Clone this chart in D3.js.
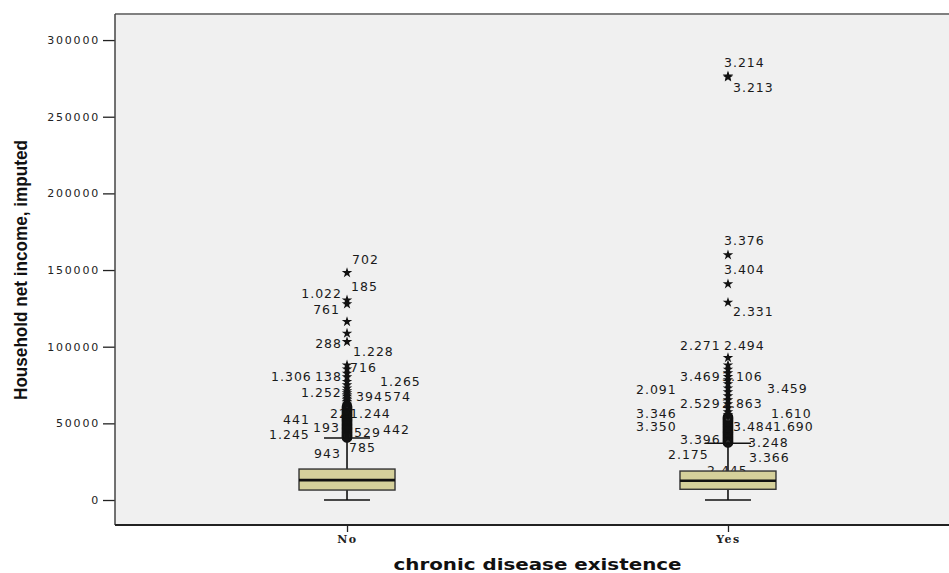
<!DOCTYPE html>
<html>
<head>
<meta charset="utf-8">
<script src="https://cdn.jsdelivr.net/npm/d3@7"></script>
<style>
  body { margin: 0; background: #fff; }
  svg { display: block; }
</style>
</head>
<body>
<div id="chart"></div>
<script>
'use strict'

// categories and tick values
let groups = ['No', 'Yes'];
let yTicks = [0, 50000, 100000, 150000, 200000, 250000, 300000];

// box statistics
let boxLow    = [0, 0];
let boxQ1     = [6500, 7000];
let boxMedian = [13000, 12600];
let boxQ3     = [20200, 18900];
let boxHigh   = [40400, 37000];

// outliers (circles) and extremes (stars)
let noCircles = [61000, 60200, 59400, 58600, 57800, 57000, 56300, 55600, 54900, 54100, 53400, 52700,
                 52000, 51300, 50500, 49800, 49100, 48400, 47700, 47000, 46300, 45600, 44900, 44200,
                 43500, 42800, 42100, 41400, 40800];
let noStars = [148200, 130400, 127800, 116300, 108700, 103200, 88000, 85400, 82600, 80200, 77200,
               75000, 73000, 71200, 69800, 68600, 67500, 66300, 65200, 64100, 63000, 62000];
let yesCircles = [54200, 53400, 52600, 51800, 51000, 50200, 49400, 48600, 47800, 47000, 46200, 45400,
                  44600, 43800, 43000, 42200, 41400, 40600, 39800, 39000, 38200, 37500];
let yesStars = [276500, 275800, 159800, 140900, 128900, 92800, 88000, 85200, 82800, 80400, 78300,
                75700, 73000, 70400, 67800, 65200, 62600, 60000, 57400, 55400];

// case labels: [text, value, horizontal offset from group centre, anchor]
let noLabels = [
  ['702', 156500, 5, 'start'], ['185', 139100, 4, 'start'], ['1.022', 134800, -5, 'end'],
  ['761', 123900, -7, 'end'], ['288', 101700, -5, 'end'], ['1.228', 96700, 6, 'start'],
  ['716', 86100, 3, 'start'], ['1.306', 80400, -76, 'start'], ['138', 80400, -32, 'start'],
  ['1.265', 77200, 33, 'start'], ['1.252', 70000, -46, 'start'], ['394', 67400, 9, 'start'],
  ['574', 67400, 37, 'start'], ['441', 52200, -64, 'start'], ['22', 56400, -17, 'start'],
  ['1.244', 56400, 3, 'start'], ['193', 47000, -34, 'start'], ['1.245', 42400, -78, 'start'],
  ['529', 43700, 7, 'start'], ['442', 46100, 36, 'start'], ['943', 30500, -33, 'start'],
  ['785', 34100, 2, 'start']
];
let yesLabels = [
  ['3.214', 285200, -4, 'start'], ['3.213', 268900, 5, 'start'], ['3.376', 169100, -4, 'start'],
  ['3.404', 150000, -4, 'start'], ['2.331', 122800, 5, 'start'], ['2.271', 100400, -48, 'start'],
  ['2.494', 100400, -4, 'start'], ['3.469', 80400, -48, 'start'], ['3.106', 80400, -6, 'start'],
  ['3.459', 72800, 39, 'start'], ['2.091', 71700, -92, 'start'], ['2.529', 62600, -48, 'start'],
  ['2.863', 62600, -6, 'start'], ['3.346', 56500, -92, 'start'], ['1.610', 56500, 43, 'start'],
  ['3.350', 47800, -92, 'start'], ['3.484', 47800, 5, 'start'], ['1.690', 47800, 45, 'start'],
  ['3.396', 39100, -48, 'start'], ['3.248', 37400, 20, 'start'], ['2.175', 29800, -60, 'start'],
  ['3.366', 27800, 21, 'start'], ['2.445', 18900, -21, 'start']
];

let circlesByGroup = [noCircles, yesCircles];
let starsByGroup = [noStars, yesStars];
let labelsByGroup = [noLabels, yesLabels];

var width = 949, height = 573;
var margin = {top: 14, left: 115, bottom: 48};
var plotRight = 960;
var boxWidth = 96, capWidth = 46;

var svg = d3.select('#chart').append('svg')
  .attr('width', width)
  .attr('height', height);

var y = d3.scaleLinear()
  .domain([-16300, 317000])
  .range([height - margin.bottom, margin.top]);

var x = d3.scalePoint()
  .domain(groups)
  .range([margin.left, plotRight])
  .padding(0.609);

// plot background and frame
svg.append('rect')
  .attr('x', margin.left).attr('y', margin.top)
  .attr('width', plotRight - margin.left)
  .attr('height', (height - margin.bottom) - margin.top)
  .attr('fill', '#f0f0f0');

// y axis
var yAxis = svg.append('g')
  .attr('transform', 'translate(' + margin.left + ',0)')
  .call(d3.axisLeft(y).tickValues(yTicks).tickSize(12).tickPadding(3).tickFormat(d3.format('d')));
yAxis.select('.domain').remove();
yAxis.selectAll('line').attr('stroke', '#222').attr('stroke-width', 1.3);
yAxis.selectAll('text')
  .attr('fill', '#222')
  .style('font-family', '"DejaVu Sans", sans-serif')
  .style('font-size', '11px')
  .style('letter-spacing', '1.8px');

// x axis
var xAxis = svg.append('g')
  .attr('transform', 'translate(0,' + (height - margin.bottom) + ')')
  .call(d3.axisBottom(x).tickSize(7).tickPadding(3));
xAxis.select('.domain').remove();
xAxis.selectAll('line').attr('stroke', '#222').attr('stroke-width', 1.3);
xAxis.selectAll('text')
  .attr('fill', '#222')
  .style('font-family', '"DejaVu Serif", serif')
  .style('font-weight', 'bold')
  .style('font-size', '11px')
  .style('letter-spacing', '1.5px');

// frame lines
svg.append('line')
  .attr('x1', margin.left).attr('x2', plotRight)
  .attr('y1', margin.top).attr('y2', margin.top)
  .attr('stroke', '#808080').attr('stroke-width', 2);
svg.append('line')
  .attr('x1', margin.left).attr('x2', margin.left)
  .attr('y1', margin.top).attr('y2', height - margin.bottom)
  .attr('stroke', '#444').attr('stroke-width', 1.5);
svg.append('line')
  .attr('x1', margin.left).attr('x2', plotRight)
  .attr('y1', height - margin.bottom).attr('y2', height - margin.bottom)
  .attr('stroke', '#222').attr('stroke-width', 2);

// case labels go underneath the markers
groups.forEach(function(g, i) {
  svg.append('g').selectAll('text')
    .data(labelsByGroup[i])
    .enter().append('text')
    .attr('x', function(d) { return x(g) + d[2]; })
    .attr('y', function(d) { return y(d[1]); })
    .attr('dy', '0.35em')
    .attr('text-anchor', function(d) { return d[3]; })
    .attr('fill', '#1a1a1a')
    .style('font-family', '"DejaVu Sans", sans-serif')
    .style('font-size', '12.5px')
    .style('letter-spacing', '1px')
    .text(function(d) { return d[0]; });
});

// boxes
groups.forEach(function(g, i) {
  var cx = x(g);
  var grp = svg.append('g');
  // whisker stem
  grp.append('line')
    .attr('x1', cx).attr('x2', cx)
    .attr('y1', y(boxLow[i])).attr('y2', y(boxHigh[i]))
    .attr('stroke', '#111').attr('stroke-width', 1.6);
  // caps
  [boxLow[i], boxHigh[i]].forEach(function(v) {
    grp.append('line')
      .attr('x1', cx - capWidth / 2).attr('x2', cx + capWidth / 2)
      .attr('y1', y(v)).attr('y2', y(v))
      .attr('stroke', '#111').attr('stroke-width', 1.6);
  });
  grp.append('rect')
    .attr('x', cx - boxWidth / 2)
    .attr('y', y(boxQ3[i]))
    .attr('width', boxWidth)
    .attr('height', y(boxQ1[i]) - y(boxQ3[i]))
    .attr('fill', '#d5d09b')
    .attr('stroke', '#333').attr('stroke-width', 1.4);
  grp.append('line')
    .attr('x1', cx - boxWidth / 2).attr('x2', cx + boxWidth / 2)
    .attr('y1', y(boxMedian[i])).attr('y2', y(boxMedian[i]))
    .attr('stroke', '#111').attr('stroke-width', 2.6);

  // outlier circles
  grp.selectAll('circle')
    .data(circlesByGroup[i])
    .enter().append('circle')
    .attr('cx', cx)
    .attr('cy', function(d) { return y(d); })
    .attr('r', 4.5)
    .attr('fill', 'none')
    .attr('stroke', '#111')
    .attr('stroke-width', 1.6);

  // extreme stars
  grp.selectAll('path.star')
    .data(starsByGroup[i])
    .enter().append('path')
    .attr('class', 'star')
    .attr('transform', function(d) { return 'translate(' + cx + ',' + y(d) + ')'; })
    .attr('d', d3.symbol().type(d3.symbolStar).size(34))
    .attr('fill', '#111');
});

// axis titles
svg.append('text')
  .attr('transform', 'translate(20,270) rotate(-90)')
  .attr('text-anchor', 'middle')
  .attr('dy', '0.35em')
  .attr('textLength', 260)
  .attr('lengthAdjust', 'spacingAndGlyphs')
  .style('font-family', '"Liberation Sans Narrow", "Arial Narrow", "Liberation Sans", sans-serif')
  .style('font-weight', 'bold')
  .style('font-size', '19px')
  .attr('fill', '#111')
  .text('Household net income, imputed');

svg.append('text')
  .attr('x', (margin.left + plotRight) / 2)
  .attr('y', 570)
  .attr('text-anchor', 'middle')
  .attr('textLength', 288)
  .attr('lengthAdjust', 'spacingAndGlyphs')
  .style('font-family', '"DejaVu Sans", Verdana, sans-serif')
  .style('font-weight', 'bold')
  .style('font-size', '16px')
  .attr('fill', '#111')
  .text('chronic disease existence');
</script>
</body>
</html>
